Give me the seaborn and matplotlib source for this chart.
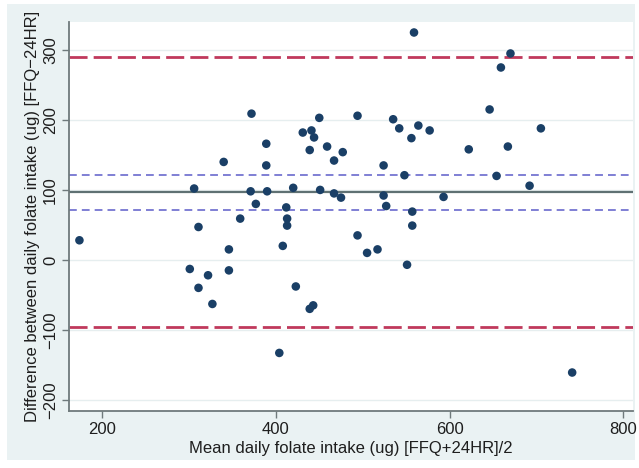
import matplotlib
matplotlib.use("Agg")
import matplotlib.pyplot as plt
import seaborn as sns
import pandas as pd

# Bland-Altman data: mean of methods (x) and difference (y)
mean_intake = [174, 301, 306, 311, 311, 322, 327, 340, 346, 346, 359, 371, 372, 377,
               389, 389, 390, 404, 408, 412, 413, 413, 420, 423, 431, 439, 439, 441,
               443, 444, 450, 451, 459, 467, 467, 475, 477, 494, 494, 505, 517, 524,
               524, 527, 535, 542, 548, 551, 556, 557, 557, 559, 564, 577, 593, 622,
               646, 659, 667, 670, 654, 692, 705, 741]
diff_intake = [28, -13, 102, 47, -40, -22, -63, 140, 15, -15, 59, 98, 209, 80,
               166, 135, 98, -133, 20, 75, 59, 49, 103, -38, 182, -70, 157, 185,
               -65, 175, 203, 100, 162, 142, 95, 89, 154, 206, 35, 10, 15, 135,
               92, 77, 201, 188, 121, -7, 174, 69, 49, 325, 192, 185, 90, 158,
               215, 275, 162, 295, 120, 106, 188, -161]

mean_diff = 97
ci_limits = [121, 72]
loa_limits = [290, -96]
x_ticks = [200, 400, 600, 800]
y_ticks = [-200, -100, 0, 100, 200, 300]

df = pd.DataFrame({"mean": mean_intake, "diff": diff_intake})

sns.set_theme(style="white")
plt.rcParams["font.family"] = ["Liberation Sans", "DejaVu Sans"]

outer_bg = "#eaf2f3"
txt = "#1e1e1e"
fig = plt.figure(figsize=(6.39, 4.68), dpi=100)
fig.patch.set_facecolor("white")

bg = fig.add_axes([7 / 639, 8 / 468, 628 / 639, 456 / 468], zorder=-5)
bg.set_facecolor(outer_bg)
bg.set_xticks([])
bg.set_yticks([])
for s in bg.spines.values():
    s.set_visible(False)

ax = fig.add_axes([69 / 639, (468 - 411) / 468, (633 - 69) / 639, (411 - 22) / 468],
                  zorder=1)
ax.set_facecolor("white")

for yv in y_ticks:
    ax.axhline(yv, color="#e6eeef", lw=1.0, zorder=0)

ax.axhline(mean_diff, color="#5f7173", lw=1.6, zorder=1)
for yv in ci_limits:
    ax.axhline(yv, color="#7f7fd4", lw=1.4, dashes=(4, 2.6), zorder=1)
for yv in loa_limits:
    ax.axhline(yv, color="#c0395c", lw=2.0, dashes=(6.5, 2.2), zorder=1)

sns.scatterplot(data=df, x="mean", y="diff", ax=ax, color="#1a3f66", s=38,
                edgecolor="none", zorder=3, legend=False)

ax.set_xlim(162, 811)
ax.set_ylim(-216, 340)
ax.set_xticks(x_ticks)
ax.set_yticks(y_ticks)
ax.set_xticklabels([str(v) for v in x_ticks], fontsize=12, color=txt)
ax.set_yticklabels([str(v).replace("-", "\u2212") for v in y_ticks], fontsize=12,
                   color=txt, rotation=90, va="center")

for side in ["top", "right"]:
    ax.spines[side].set_visible(False)
for side in ["left", "bottom"]:
    ax.spines[side].set_color("#6f7a7c")
    ax.spines[side].set_linewidth(1.3)

ax.tick_params(axis="both", which="major", direction="out", length=5, width=1,
               color="#6f7a7c", pad=3, bottom=True, left=True)

ax.set_xlabel("Mean daily folate intake (ug) [FFQ+24HR]/2", fontsize=12,
              color=txt, labelpad=3)
ax.set_ylabel("Difference between daily folate intake (ug) [FFQ\u221224HR]",
              fontsize=12, color=txt, labelpad=2)

fig.savefig("out.png", dpi=100, facecolor=fig.get_facecolor())
